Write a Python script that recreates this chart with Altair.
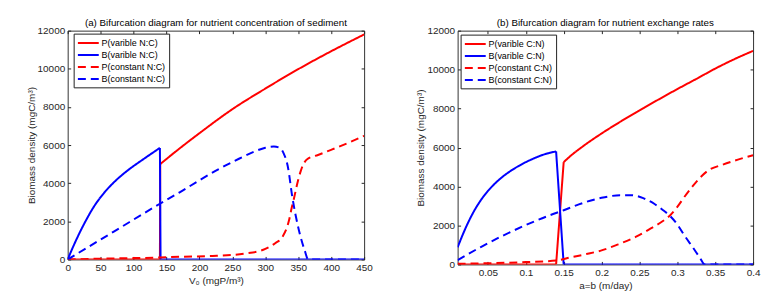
import altair as alt
import pandas as pd

# ---------------- Panel (a): nutrient concentration of sediment ----------------
a_labels = ["P(varible N:C)", "B(varible N:C)", "P(constant N:C)", "B(constant N:C)"]

# P (variable N:C): zero branch, jump, upper branch
a_pv_x = [0, 140, 140.5, 150, 175, 200, 250, 300, 350, 400, 450]
a_pv_y = [0, 0, 5000, 5270, 5960, 6620, 7880, 8960, 9980, 10920, 11800]
a_pv_jump = 2  # index where the smooth upper branch starts

# B (variable N:C): smooth branch, drop, zero branch
a_bv_x = [0, 10, 20, 30, 40, 55, 70, 90, 115, 140, 141, 450]
a_bv_y = [0, 800, 1530, 2190, 2780, 3480, 4040, 4640, 5260, 5850, 0, 0]
a_bv_jump = 9  # index of the peak before the drop

a_pc_x = [0, 50, 100, 140, 170, 220, 270, 300, 315, 326, 336, 340, 344, 348, 354, 358, 364, 380, 400, 425, 450]
a_pc_y = [0, 40, 70, 100, 140, 180, 310, 550, 850, 1180, 2050, 2700, 3270, 3900, 4660, 5000, 5270, 5480, 5750, 6100, 6480]

a_bc_x = [0, 70, 140, 170, 200, 230, 260, 285, 300, 313, 322, 328, 334, 341, 351, 360, 365, 450]
a_bc_y = [0, 1460, 2920, 3520, 4150, 4750, 5280, 5680, 5860, 5920, 5850, 5550, 4900, 3270, 1530, 450, 0, 0]

a_xticks = [0, 50, 100, 150, 200, 250, 300, 350, 400, 450]

# ---------------- Panel (b): nutrient exchange rates ----------------
b_labels = ["P(varible C:N)", "B(varible C:N)", "P(constant C:N)", "B(constant C:N)"]

b_pv_x = [0.01, 0.14, 0.15, 0.16, 0.175, 0.2, 0.225, 0.25, 0.275, 0.3, 0.325, 0.35, 0.375, 0.4]
b_pv_y = [0, 0, 5250, 5600, 6050, 6720, 7330, 7900, 8460, 9000, 9520, 10050, 10530, 10960]
b_pv_jump = 2

b_bv_x = [0.01, 0.02, 0.03, 0.04, 0.05, 0.06, 0.07, 0.08, 0.09, 0.1, 0.11, 0.12, 0.13, 0.14, 0.15, 0.4]
b_bv_y = [880, 1820, 2620, 3260, 3770, 4180, 4520, 4800, 5040, 5250, 5430, 5590, 5710, 5800, 0, 0]
b_bv_jump = 13

b_pc_x = [0.01, 0.05, 0.1, 0.14, 0.16, 0.18, 0.2, 0.22, 0.245, 0.265, 0.28, 0.29, 0.3, 0.31, 0.32, 0.33, 0.34, 0.36, 0.38, 0.4]
b_pc_y = [30, 60, 120, 200, 370, 530, 720, 1000, 1410, 1850, 2200, 2500, 2950, 3500, 4000, 4450, 4800, 5120, 5380, 5600]

b_bc_x = [0.01, 0.04, 0.07, 0.1, 0.13, 0.15, 0.17, 0.2, 0.225, 0.24, 0.255, 0.27, 0.28, 0.29, 0.3, 0.31, 0.32, 0.33, 0.336, 0.4]
b_bc_y = [220, 880, 1480, 2020, 2500, 2780, 3080, 3420, 3550, 3550, 3400, 3100, 2820, 2500, 2050, 1450, 900, 330, 0, 0]

b_xticks = [0.05, 0.1, 0.15, 0.2, 0.25, 0.3, 0.35, 0.4]

y_ticks = [0, 2000, 4000, 6000, 8000, 10000, 12000]

COLORS = ["#ff0000", "#0000ff", "#ff0000", "#0000ff"]
DASHES = [[1, 0], [1, 0], [8, 5], [8, 5]]
FONT = "Liberation Sans"
AXC = "#262626"


def frame(xs, ys, label):
    return pd.DataFrame({"x": xs, "y": ys, "series": label})


def p_segments(xs, ys, k, label):
    # zero branch + jump drawn straight, upper branch smooth
    return [(frame(xs[:k + 1], ys[:k + 1], label), "linear"),
            (frame(xs[k:], ys[k:], label), "monotone")]


def b_segments(xs, ys, k, label):
    # smooth branch, then straight drop and zero branch
    return [(frame(xs[:k + 1], ys[:k + 1], label), "monotone"),
            (frame(xs[k:], ys[k:], label), "linear")]


def panel(segments, labels, title, xdom, xticks, xfmt, xtitle, w, h, lx, ly):
    legend = alt.Legend(
        title=None, orient="none", legendX=lx, legendY=ly,
        symbolType="M-1,0H3", symbolSize=110, symbolStrokeWidth=2,
        labelFontSize=9, labelFont=FONT, labelColor="black", labelLimit=200,
        rowPadding=-2, labelOffset=12,
        strokeColor="#222", fillColor="white", padding=3,
    )
    color = alt.Color("series:N", scale=alt.Scale(domain=labels, range=COLORS), legend=legend)
    dash = alt.StrokeDash("series:N", scale=alt.Scale(domain=labels, range=DASHES), legend=legend)
    xscale = alt.Scale(domain=xdom, nice=False, zero=False)
    yscale = alt.Scale(domain=[0, 12000], nice=False)
    xaxis = alt.Axis(values=xticks, format=xfmt, title=xtitle, offset=-3, tickSize=3,
                     domain=False, grid=False, labelPadding=3, titlePadding=3,
                     labelFlush=False)
    yaxis = alt.Axis(values=y_ticks, format="d", title="Biomass density (mgC/m³)",
                     offset=-3, tickSize=3, domain=False, grid=False, labelPadding=3,
                     titlePadding=1)
    layers = []
    for df, interp in segments:
        layers.append(
            alt.Chart(df).mark_line(strokeWidth=2, clip=True, interpolate=interp).encode(
                x=alt.X("x:Q", scale=xscale, axis=xaxis),
                y=alt.Y("y:Q", scale=yscale, axis=yaxis),
                color=color,
                strokeDash=dash,
            )
        )
    main = alt.layer(*layers)
    mirror = alt.Chart(segments[0][0]).mark_line(opacity=0).encode(
        x=alt.X("x:Q", scale=xscale,
                axis=alt.Axis(orient="top", values=xticks, labels=False, title=None,
                              offset=-3, tickSize=3, domain=False, grid=False)),
        y=alt.Y("y:Q", scale=yscale,
                axis=alt.Axis(orient="right", values=y_ticks, labels=False, title=None,
                              offset=-3, tickSize=3, domain=False, grid=False)),
    )
    return alt.layer(main, mirror).resolve_axis(x="independent", y="independent").properties(
        width=w, height=h,
        title=alt.Title(title, fontSize=9.8, fontWeight="normal", font=FONT, color="black", offset=-2),
    )


a_segs = (p_segments(a_pv_x, a_pv_y, a_pv_jump, a_labels[0])
          + b_segments(a_bv_x, a_bv_y, a_bv_jump, a_labels[1])
          + [(frame(a_pc_x, a_pc_y, a_labels[2]), "monotone"),
             (frame(a_bc_x, a_bc_y, a_labels[3]), "monotone")])
b_segs = (p_segments(b_pv_x, b_pv_y, b_pv_jump, b_labels[0])
          + b_segments(b_bv_x, b_bv_y, b_bv_jump, b_labels[1])
          + [(frame(b_pc_x, b_pc_y, b_labels[2]), "monotone"),
             (frame(b_bc_x, b_bc_y, b_labels[3]), "monotone")])

left = panel(a_segs, a_labels, "(a) Bifurcation diagram for nutrient concentration of sediment",
             [0, 450], a_xticks, "d", "V₀ (mgP/m³)", 298, 230, 6, 3)
right = panel(b_segs, b_labels, "(b) Bifurcation diagram for nutrient exchange rates",
              [0.01, 0.4], b_xticks, "~g", "a=b (m/day)", 297, 235, 3, 4)

chart = alt.hconcat(left, right, spacing=42).resolve_scale(
    color="independent", strokeDash="independent"
).properties(
    padding={"left": 17, "top": 8, "right": 5, "bottom": 5}
).configure_view(
    stroke="#333", strokeWidth=1
).configure_axis(
    labelFont=FONT, labelFontSize=10, labelColor=AXC, tickColor=AXC, tickWidth=1,
    titleFont=FONT, titleFontSize=10, titleFontWeight="normal", titleColor=AXC,
)

chart.save("out.html", embed_options={"renderer": "svg", "actions": False})
